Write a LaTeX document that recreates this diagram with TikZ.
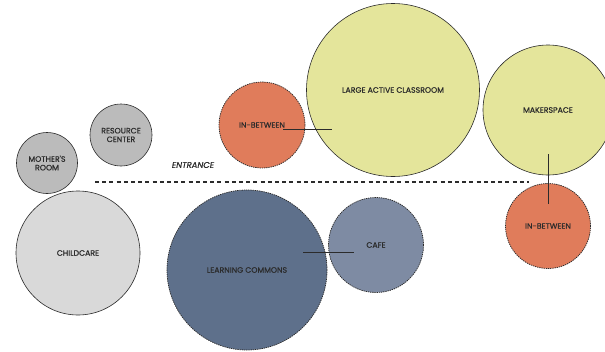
\documentclass[tikz,border=0pt]{standalone}
\usepackage{fontspec}
\setmainfont{Poppins}
\newfontfamily\labelfont{Poppins}[FakeBold=0.6]
\usetikzlibrary{positioning}

\definecolor{orangezone}{HTML}{E07C5B}
\definecolor{yellowzone}{HTML}{E4E59B}
\definecolor{greyzone}{HTML}{BBBBBB}
\definecolor{lightzone}{HTML}{D9D9D9}
\definecolor{bluezone}{HTML}{5E708B}
\definecolor{cafezone}{HTML}{7E8BA3}
\definecolor{inkline}{HTML}{2B2B2B}

\tikzset{
	space/.style={circle, inner sep=0pt, align=center, font=\labelfont\fontsize{7.8}{8.6}\selectfont, text=inkline},
	solidspace/.style={space, draw=inkline, line width=0.6pt},
	dashspace/.style={space, draw=inkline, line width=0.75pt, dash pattern=on 1.3pt off 0.9pt},
	link/.style={draw=inkline, line width=0.8pt}
}

\begin{document}
\begin{tikzpicture}[x=1pt,y=-1pt]
	\useasboundingbox (0,0) rectangle (605,351);
	% grey support spaces
	\node[solidspace, fill=greyzone, minimum size=61pt] (mother) at (47,163) {MOTHER'S\\ROOM};
	\node[solidspace, fill=greyzone, minimum size=62pt] (resource) at (121,135) {RESOURCE\\CENTER};
	\node[solidspace, fill=lightzone, minimum size=124pt] (childcare) at (78,253) {CHILDCARE};
	% entrance
	\draw[inkline, line width=1.6pt, dash pattern=on 4pt off 3.2pt] (95,182) -- (529,182);
	\node[font=\labelfont\fontsize{8.4}{9}\selectfont\itshape, text=inkline] (entrance) at (193,165) {ENTRANCE};
	% classrooms
	\node[solidspace, fill=yellowzone, minimum size=173pt] (classroom) at (393,90) {LARGE ACTIVE CLASSROOM};
	\node[solidspace, fill=yellowzone, minimum size=130pt] (maker) at (548,110) {MAKERSPACE};
	\node[dashspace, fill=orangezone, minimum size=86pt] (betweenA) at (262,125) {IN-BETWEEN};
	\node[dashspace, fill=orangezone, minimum size=85pt] (betweenB) at (548,226) {IN-BETWEEN};
	% commons
	\node[dashspace, fill=bluezone, minimum size=160pt] (commons) at (247,270) {LEARNING COMMONS};
	\node[dashspace, fill=cafezone, minimum size=95pt] (cafe) at (376,245) {CAFE};
	% links
	\draw[link] ([xshift=21pt,yshift=-4pt]betweenA.center) -- ([xshift=-61pt,yshift=-39pt]classroom.center);
	\draw[link] ([yshift=-44pt]maker.center) -- ([yshift=22pt]betweenB.center);
	\draw[link] ([xshift=56pt,yshift=18pt]commons.center) -- ([xshift=-22pt,yshift=-7pt]cafe.center);
\end{tikzpicture}
\end{document}
